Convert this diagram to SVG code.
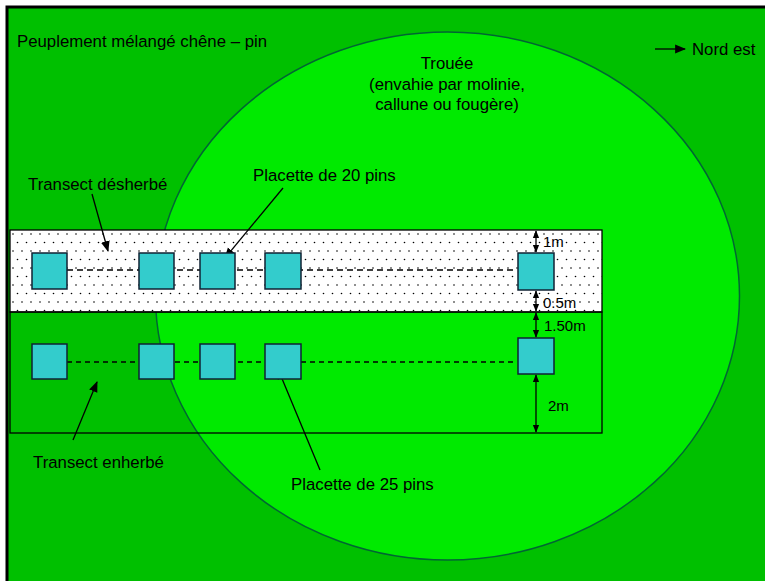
<svg xmlns="http://www.w3.org/2000/svg" width="765" height="581" viewBox="0 0 765 581">
<defs>
<style>
text{font-family:"Liberation Sans",Arial,sans-serif;font-size:16.8px;fill:#000}
.dim{font-size:15px}
.sq{fill:#33CCCC;stroke:#123;stroke-width:1.5}
.ln{stroke:#000;stroke-width:1.3;fill:none}
</style>
<pattern id="dots" x="10" y="230" width="9" height="17" patternUnits="userSpaceOnUse">
<rect width="9" height="17" fill="#fff"/>
<circle cx="3" cy="4" r="0.8" fill="#000"/>
<circle cx="7.5" cy="12.5" r="0.8" fill="#000"/>
</pattern>
<marker id="ah" viewBox="0 0 10 10" refX="9" refY="5" markerWidth="11" markerHeight="11" markerUnits="userSpaceOnUse" orient="auto-start-reverse">
<path d="M0,1 L10,5 L0,9 Z" fill="#000"/>
</marker>
<marker id="ahs" viewBox="0 0 10 10" refX="9" refY="5" markerWidth="8" markerHeight="8" markerUnits="userSpaceOnUse" orient="auto-start-reverse">
<path d="M0,1 L10,5 L0,9 Z" fill="#000"/>
</marker>
</defs>
<rect width="765" height="581" fill="#fff"/>
<rect id="forest" x="7" y="7" width="800" height="620" fill="#00C000" stroke="#000" stroke-width="3"/>
<ellipse id="trouee" cx="447.5" cy="296" rx="292" ry="264" fill="#00EA00" stroke="#063" stroke-width="1.5"/>
<rect id="transect-desherbe" x="10" y="230" width="592" height="82" fill="url(#dots)" stroke="#000" stroke-width="1.3"/>
<rect id="transect-enherbe" x="10" y="312" width="592" height="121" fill="none" stroke="#000" stroke-width="1.3"/>
<g id="connectors">
<line class="ln" x1="67" y1="270" x2="517" y2="270" stroke-dasharray="6 4"/>
<line class="ln" x1="67" y1="362" x2="517" y2="362" stroke-dasharray="5 4"/>
<line class="ln" x1="92" y1="194" x2="108" y2="251" marker-end="url(#ah)"/>
<line class="ln" x1="283" y1="188" x2="225" y2="258" marker-end="url(#ah)"/>
<line class="ln" x1="73" y1="440" x2="97" y2="382" marker-end="url(#ah)"/>
<line class="ln" x1="320" y1="470" x2="278" y2="369" marker-end="url(#ah)"/>
<line class="ln" x1="655" y1="49" x2="685" y2="49" marker-end="url(#ah)"/>
<line class="ln" x1="536" y1="231" x2="536" y2="252" marker-start="url(#ahs)" marker-end="url(#ahs)"/>
<line class="ln" x1="536" y1="291" x2="536" y2="311" marker-start="url(#ahs)" marker-end="url(#ahs)"/>
<line class="ln" x1="536" y1="313" x2="536" y2="337" marker-start="url(#ahs)" marker-end="url(#ahs)"/>
<line class="ln" x1="536" y1="375" x2="536" y2="432" marker-start="url(#ahs)" marker-end="url(#ahs)"/>
</g>
<g id="placettes-20">
<rect class="sq" x="32" y="253" width="35" height="36"/>
<rect class="sq" x="139" y="253" width="35" height="36"/>
<rect class="sq" x="200" y="253" width="35" height="36"/>
<rect class="sq" x="265" y="253" width="36" height="36"/>
<rect class="sq" x="518" y="253" width="36" height="37"/>
</g>
<g id="placettes-25">
<rect class="sq" x="32" y="344" width="35" height="35"/>
<rect class="sq" x="139" y="344" width="35" height="35"/>
<rect class="sq" x="200" y="344" width="35" height="35"/>
<rect class="sq" x="265" y="344" width="36" height="35"/>
<rect class="sq" x="518" y="338" width="36" height="36"/>
</g>
<g id="labels">
<text x="17" y="47">Peuplement mélangé chêne – pin</text>
<text x="692" y="55">Nord est</text>
<text x="447" y="69" text-anchor="middle">Trouée</text>
<text x="447" y="90" text-anchor="middle">(envahie par molinie,</text>
<text x="447" y="110" text-anchor="middle">callune ou fougère)</text>
<text x="28" y="190">Transect désherbé</text>
<text x="253" y="181">Placette de 20 pins</text>
<text x="33" y="468">Transect enherbé</text>
<text x="291" y="490">Placette de 25 pins</text>
<text class="dim" x="543" y="247">1m</text>
<text class="dim" x="543" y="308">0.5m</text>
<text class="dim" x="544" y="331">1.50m</text>
<text class="dim" x="548" y="411">2m</text>
</g>
</svg>
